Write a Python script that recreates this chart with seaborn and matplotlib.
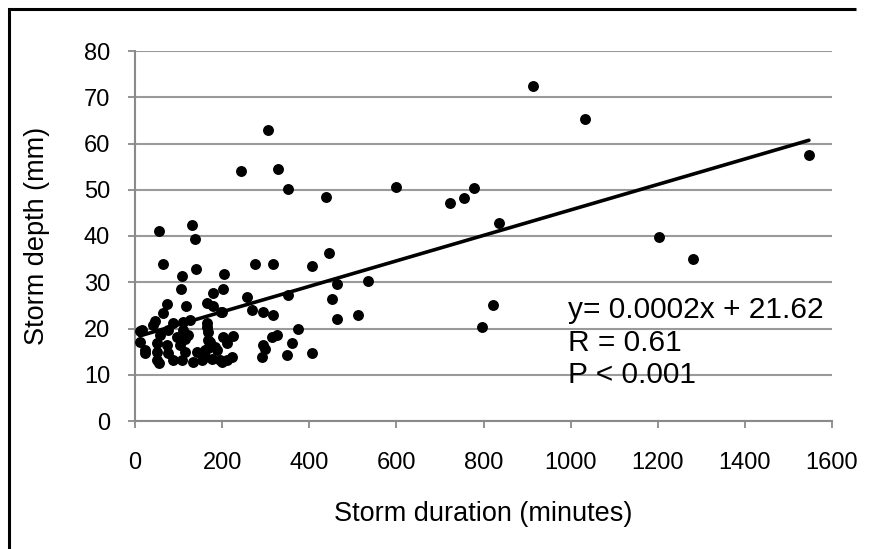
import matplotlib
matplotlib.use("Agg")
import matplotlib.pyplot as plt
import seaborn as sns
import pandas as pd
from matplotlib.lines import Line2D

# Storm duration (minutes) and storm depth (mm)
duration = [11, 16, 11, 23, 23, 41, 46, 55, 64, 64, 73, 50, 50, 50, 57, 73, 76, 76,
            87, 87, 96, 103, 105, 108, 108, 110, 110, 115, 115, 117, 122, 126, 131,
            133, 138, 140, 142, 154, 161, 161, 165, 165, 165, 168, 168, 168, 172,
            177, 179, 179, 184, 188, 195, 197, 200, 200, 202, 202, 204, 211, 211,
            223, 225, 55,
            243, 257, 268, 275, 291, 294, 294, 298, 305, 315, 317, 317, 326, 328,
            349, 351, 351, 360, 374, 406, 406, 438, 445, 452, 464, 464, 512, 535, 599,
            723, 755, 778, 797, 822, 835, 914, 1033, 1203, 1281, 1547]
depth = [19.5, 19.7, 17.0, 15.3, 14.6, 20.7, 21.6, 41.0, 33.9, 23.3, 25.3, 13.2, 14.9,
         16.8, 18.6, 16.4, 14.7, 19.7, 21.2, 13.2, 18.1, 16.4, 28.5, 31.3, 13.2, 21.4,
         19.7, 14.9, 17.7, 24.8, 18.6, 21.8, 42.3, 12.8, 39.3, 32.8, 14.9, 13.2, 15.3,
         13.8, 25.5, 21.2, 20.3, 19.2, 17.5, 15.8, 17.1, 13.4, 27.6, 24.8, 16.0, 15.3,
         13.2, 23.6, 12.7, 23.5, 28.5, 18.1, 31.7, 16.8, 13.2, 13.8, 18.4, 12.5,
         54.0, 26.8, 24.0, 33.9, 13.8, 23.5, 16.4, 15.5, 62.9, 18.1, 33.9, 22.9, 18.6,
         54.4, 14.3, 50.1, 27.2, 16.8, 19.9, 33.5, 14.7, 48.4, 36.3, 26.3, 29.6, 22.0,
         22.9, 30.2, 50.5,
         47.1, 48.2, 50.3, 20.3, 25.1, 42.8, 72.4, 65.2, 39.7, 35.0, 57.5]

# Trend line end points as drawn on the chart
fit_x = [11, 1547]
fit_y = [18.4, 60.7]

x_ticks = [0, 200, 400, 600, 800, 1000, 1200, 1400, 1600]
y_ticks = [0, 10, 20, 30, 40, 50, 60, 70, 80]
stats_lines = ["y= 0.0002x + 21.62", "R = 0.61", "P < 0.001"]

sns.set_theme(style="white")
plt.rcParams["font.family"] = ["Liberation Sans", "DejaVu Sans"]

W, H = 869, 549
fig = plt.figure(figsize=(W / 100, H / 100), dpi=100, facecolor="white",
                 edgecolor="white", linewidth=0)
ax = fig.add_axes([135 / W, 1 - 421 / H, (832 - 135) / W, (421 - 51) / H])

df = pd.DataFrame({"duration": duration, "depth": depth})
fit = pd.DataFrame({"x": fit_x, "y": fit_y})

sns.scatterplot(data=df, x="duration", y="depth", ax=ax, color="black",
                s=62, edgecolor="black", linewidth=0, zorder=3)
sns.lineplot(data=fit, x="x", y="y", ax=ax, color="black", linewidth=2.6, zorder=4)

ax.set_xlim(0, 1600)
ax.set_ylim(0, 80)
ax.set_xticks(x_ticks)
ax.set_yticks(y_ticks)
ax.set_xticklabels([str(v) for v in x_ticks], fontsize=17)
ax.set_yticklabels([str(v) for v in y_ticks], fontsize=17)
ax.yaxis.grid(True, color="#9a9a9a", linewidth=1.5)
ax.xaxis.grid(False)
ax.set_axisbelow(True)

for side in ["top", "right"]:
    ax.spines[side].set_visible(False)
for side in ["left", "bottom"]:
    ax.spines[side].set_color("#8a8a8a")
    ax.spines[side].set_linewidth(1.5)

ax.tick_params(axis="both", which="major", direction="out", length=5, width=1.3,
               color="#8a8a8a", labelcolor="black")
ax.tick_params(axis="x", pad=17, bottom=True)
ax.tick_params(axis="y", pad=13, left=True)

ax.set_xlabel("Storm duration (minutes)", fontsize=19.5, color="black", labelpad=20)
ax.set_ylabel("Storm depth (mm)", fontsize=19.5, color="black", labelpad=24)

for i, line in enumerate(stats_lines):
    ax.text(995, 23.9 - i * 7.0, line, fontsize=21.5, color="black",
            ha="left", va="center")

# outer frame (only left and top edges visible in the picture)
fy = 1 - 9 / H
fx = 8.5 / W
fig.add_artist(Line2D([fx, fx], [0.0, fy], transform=fig.transFigure,
                      color="black", linewidth=2.2, solid_capstyle="projecting"))
fig.add_artist(Line2D([fx, 0.985], [fy, fy], transform=fig.transFigure,
                      color="black", linewidth=2.2, solid_capstyle="butt"))

fig.savefig("out.png", dpi=100, facecolor="white", edgecolor="white")
